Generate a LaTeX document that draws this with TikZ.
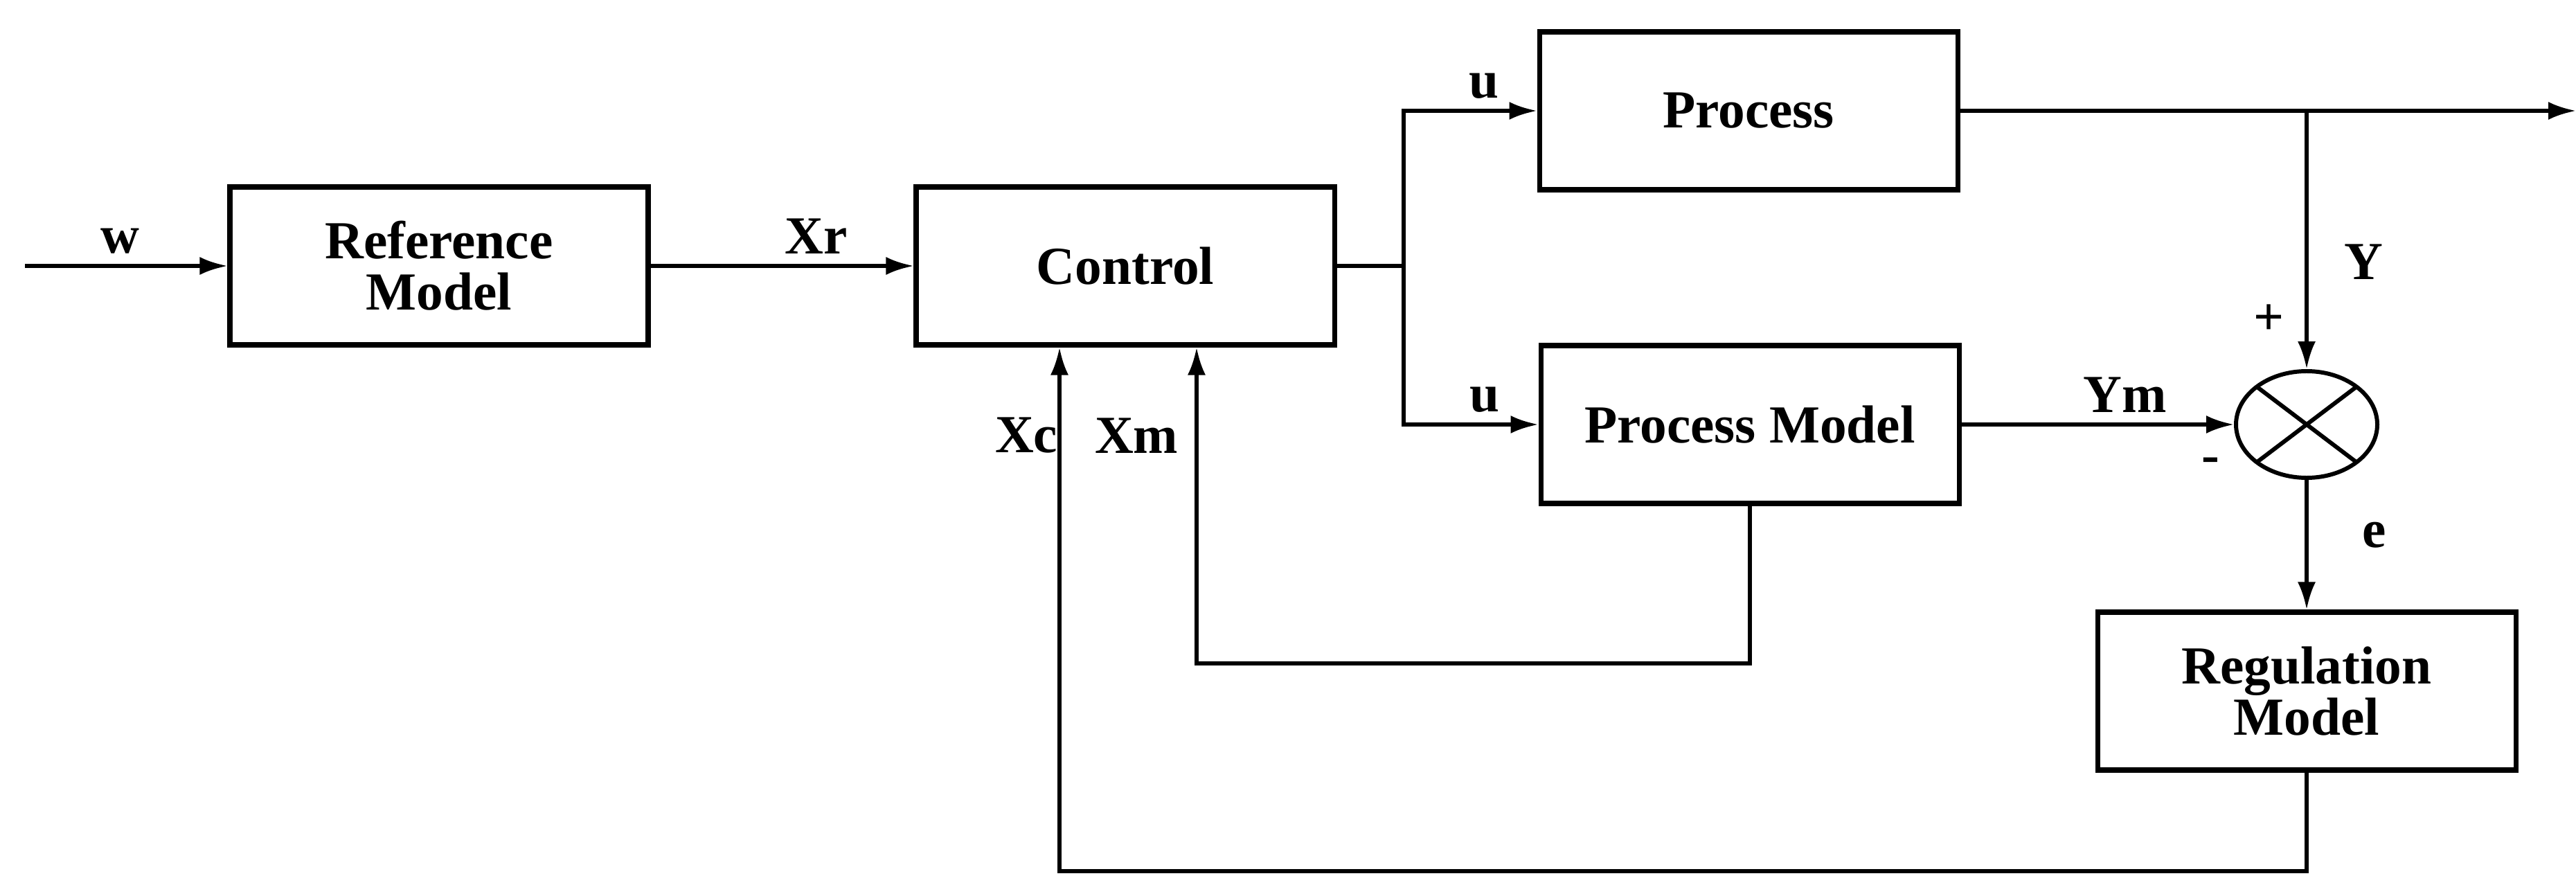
\documentclass[tikz,border=0pt]{standalone}
\usepackage{fontspec}
\setmainfont{Liberation Serif}
\usetikzlibrary{arrows.meta,positioning,calc,shapes.geometric}

\begin{document}
\begin{tikzpicture}[
    font=\fontsize{22}{21}\selectfont\bfseries,
    block/.style={draw, line width=2pt, align=center, minimum width=6.04cm, minimum height=2.28cm, inner sep=0pt},
    junction/.style={draw, ellipse, line width=1.7pt, minimum width=2.04cm, minimum height=1.54cm, inner sep=0pt},
    sig/.style={-{Latex[length=4mm,width=2.6mm]}, line width=1.6pt},
    wire/.style={line width=1.6pt},
    lab/.style={inner sep=1.5mm}
  ]
  \useasboundingbox (0,0) rectangle (37.2,-12.65);
  % blocks
  \node[block] (ref) at (6.34,-3.84) {Reference\\Model};
  \node[block] (ctrl) at (16.25,-3.84) {Control};
  \node[block] (proc) at (25.25,-1.60) {Process};
  \node[block] (pm) at (25.27,-6.13) {Process Model};
  \node[block] (reg) at (33.31,-9.98) {Regulation\\Model};
  \node[junction] (sum) at (33.31,-6.13) {};
  \draw[line width=1.7pt] ([shift={(0.72,0.545)}]sum.center) -- ([shift={(-0.72,-0.545)}]sum.center);
  \draw[line width=1.7pt] ([shift={(-0.72,0.545)}]sum.center) -- ([shift={(0.72,-0.545)}]sum.center);
  % helper points
  \coordinate (win) at (0.36,-3.84);
  \coordinate (split) at (20.27,-3.84);
  \coordinate (yout) at (37.2,-1.60);
  \coordinate (ytap) at (sum |- proc.east);
  \coordinate (xmcorner) at (17.28,-9.58);
  \coordinate (xccorner) at (15.30,-12.58);
  % forward path
  \draw[sig] (win) -- node[lab, above, pos=0.47] (lw) {w} (ref);
  \draw[sig] (ref) -- node[lab, above, pos=0.63] (lxr) {Xr} (ctrl);
  \draw[wire] (ctrl.east) -- (split);
  \draw[sig] (split) |- node[lab, above, pos=0.8] (lu1) {u} (proc.west);
  \draw[sig] (split) |- node[lab, above, pos=0.8] (lu2) {u} (pm.west);
  \draw[sig] (proc.east) -- (yout);
  \draw[sig] (ytap) -- node[lab, right, pos=0.585, xshift=0.37cm] (ly) {Y} (sum.north);
  \draw[sig] (pm.east) -- node[lab, above, pos=0.6] (lym) {Ym} (sum.west);
  \draw[sig] (sum.south) -- node[lab, right, pos=0.425, xshift=0.63cm] (le) {e} (reg.north);
  \node[lab] (lplus) at (32.76,-4.62) {+};
  \node[lab] (lminus) at (31.92,-6.72) {-};
  % feedback
  \draw[sig] (pm.south) |- (xmcorner) -- (xmcorner |- ctrl.south);
  \draw[sig] (reg.south) |- (xccorner) -- (xccorner |- ctrl.south);
  \node[inner sep=0pt, anchor=east] (lxm) at (17.02,-6.29) {Xm};
  \node[inner sep=0pt, anchor=east] (lxc) at (15.28,-6.29) {Xc};
\end{tikzpicture}
\end{document}
